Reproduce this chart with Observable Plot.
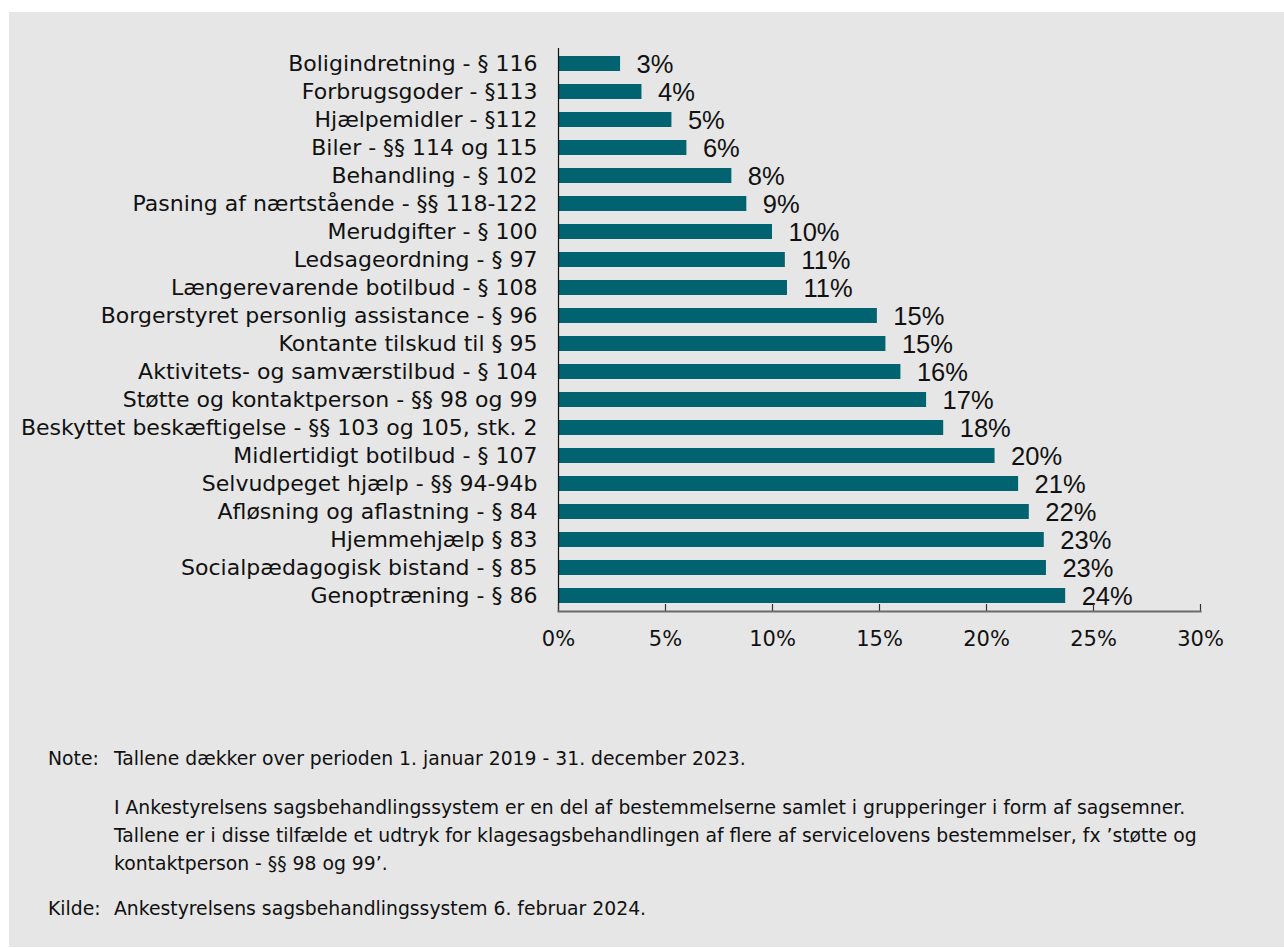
<!DOCTYPE html>
<html>
<head>
<meta charset="utf-8">
<script src="https://cdn.jsdelivr.net/npm/d3@7"></script>
<script src="https://cdn.jsdelivr.net/npm/@observablehq/plot@0.6"></script>
<style>
  html, body { margin: 0; padding: 0; background: #ffffff; }
  #panel {
    position: absolute; left: 9px; top: 12px; width: 1275px; height: 935px;
    background: #e6e6e6; overflow: hidden;
  }
  #chart svg { display: block; }
  #notes {
    font-family: "DejaVu Sans", Verdana, sans-serif; font-size: 18.8px; color: #111;
    line-height: 28px; margin-top: 53px;
  }
  .row { display: flex; }
  .lab { width: 66px; flex: none; padding-left: 39px; }
  .txt { flex: 1; white-space: nowrap; }
</style>
</head>
<body>
<div id="panel">
  <div id="chart"></div>
  <div id="notes">
    <div class="row"><div class="lab">Note:</div><div class="txt">Tallene dækker over perioden 1. januar 2019 - 31. december 2023.</div></div>
    <div class="row" style="margin-top:21px"><div class="lab"></div><div class="txt">I Ankestyrelsens sagsbehandlingssystem er en del af bestemmelserne samlet i grupperinger i form af sagsemner.<br>Tallene er i disse tilfælde et udtryk for klagesagsbehandlingen af flere af servicelovens bestemmelser, fx ’støtte og<br>kontaktperson - §§ 98 og 99’.</div></div>
    <div class="row" style="margin-top:17px"><div class="lab">Kilde:</div><div class="txt">Ankestyrelsens sagsbehandlingssystem 6. februar 2024.</div></div>
  </div>
</div>
<script>
const categories = [
  "Boligindretning - § 116",
  "Forbrugsgoder - §113",
  "Hjælpemidler - §112",
  "Biler - §§ 114 og 115",
  "Behandling - § 102",
  "Pasning af nærtstående - §§ 118-122",
  "Merudgifter - § 100",
  "Ledsageordning - § 97",
  "Længerevarende botilbud - § 108",
  "Borgerstyret personlig assistance - § 96",
  "Kontante tilskud til § 95",
  "Aktivitets- og samværstilbud - § 104",
  "Støtte og kontaktperson - §§ 98 og 99",
  "Beskyttet beskæftigelse - §§ 103 og 105, stk. 2",
  "Midlertidigt botilbud - § 107",
  "Selvudpeget hjælp - §§ 94-94b",
  "Afløsning og aflastning - § 84",
  "Hjemmehjælp § 83",
  "Socialpædagogisk bistand - § 85",
  "Genoptræning - § 86"
];
const values = [2.9, 3.9, 5.3, 6.0, 8.1, 8.8, 10.0, 10.6, 10.7, 14.9, 15.3, 16.0, 17.2, 18.0, 20.4, 21.5, 22.0, 22.7, 22.8, 23.7];
const valueLabels = ["3%", "4%", "5%", "6%", "8%", "9%", "10%", "11%", "11%", "15%", "15%", "16%", "17%", "18%", "20%", "21%", "22%", "23%", "23%", "24%"];
const xTicks = [0, 5, 10, 15, 20, 25, 30];
const xTickLabels = ["0%", "5%", "10%", "15%", "20%", "25%", "30%"];

const data = categories.map((c, i) => ({category: c, value: values[i], label: valueLabels[i]}));

const W = 1275, H = 680;
const chart = Plot.plot({
  width: W,
  height: H,
  marginLeft: 549,
  marginRight: 84,
  marginTop: 36,
  marginBottom: 81,
  style: {background: "transparent", fontFamily: "DejaVu Sans, Verdana, sans-serif", color: "#111"},
  x: {domain: [0, 30]},
  y: {domain: categories, paddingInner: 0.47, paddingOuter: 0.25},
  marks: [
    Plot.barX(data, {x: "value", y: "category", fill: "#026370"}),
    Plot.text(data, {x: "value", y: "category", text: "label", textAnchor: "start", dx: 16, dy: 1,
      fontSize: 25.5, fontFamily: "Liberation Sans, Arial, sans-serif", fill: "#111"}),
    Plot.ruleX([0], {stroke: "#111", strokeWidth: 1.2}),
    Plot.ruleX(xTicks, {stroke: "#333", strokeWidth: 1.2, insetTop: 556}),
    Plot.frame({anchor: "bottom", stroke: "#6b6b6b", strokeWidth: 2}),
    Plot.axisX({ticks: xTicks, tickSize: 0, tickPadding: 20, fontSize: 21,
      tickFormat: d => xTickLabels[xTicks.indexOf(d)], label: null}),
    Plot.axisY({tickSize: 0, tickPadding: 21, fontSize: 22, label: null})
  ]
});
document.getElementById("chart").appendChild(chart);
</script>
</body>
</html>
